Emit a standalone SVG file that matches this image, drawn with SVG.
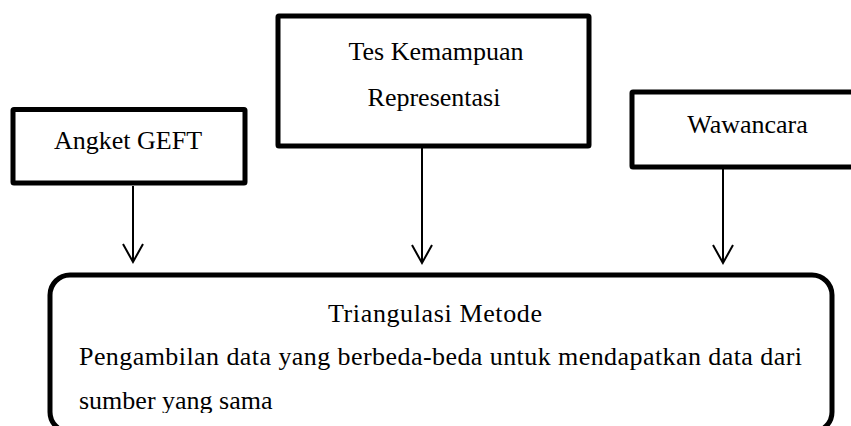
<svg xmlns="http://www.w3.org/2000/svg" width="851" height="426" viewBox="0 0 851 426">
<defs>
<style>
.box{fill:#fff;stroke:#000;stroke-width:5}
.t{font-family:"Liberation Serif","Times New Roman",serif;font-size:26px;fill:#000}
.c{text-anchor:middle}
.ln{fill:none;stroke:#000;stroke-width:2}
</style>
<clipPath id="clipTxt"><rect x="0" y="0" width="851" height="413"/></clipPath>
</defs>
<rect width="851" height="426" fill="#fff"/>
<g id="connectors">
<line class="ln" x1="133" y1="186" x2="133" y2="262"/>
<polyline class="ln" points="123,244 133,262 143,244"/>
<line class="ln" x1="422" y1="148" x2="422" y2="263"/>
<polyline class="ln" points="412,245 422,263 432,245"/>
<line class="ln" x1="723" y1="169" x2="723" y2="263"/>
<polyline class="ln" points="713,245 723,263 733,245"/>
</g>
<g id="angket">
<rect class="box" x="13" y="109.5" width="232" height="73.5" rx="1"/>
<text class="t c" x="128" y="149">Angket GEFT</text>
</g>
<g id="tes">
<rect class="box" x="278" y="16" width="311" height="130" rx="1"/>
<text class="t c" x="436" y="60">Tes Kemampuan</text>
<text class="t c" x="434" y="106">Representasi</text>
</g>
<g id="wawancara">
<rect class="box" x="632" y="92" width="240" height="75" rx="1"/>
<text class="t c" x="747.5" y="133">Wawancara</text>
</g>
<g id="triangulasi">
<rect class="box" x="50" y="275" width="782" height="157" rx="20"/>
<text class="t c" x="435" y="322" textLength="214">Triangulasi Metode</text>
<g clip-path="url(#clipTxt)">
<text class="t" x="79" y="365" textLength="723">Pengambilan data yang berbeda-beda untuk mendapatkan data dari</text>
<text class="t" x="79" y="409">sumber yang sama</text>
</g>
</g>
</svg>
